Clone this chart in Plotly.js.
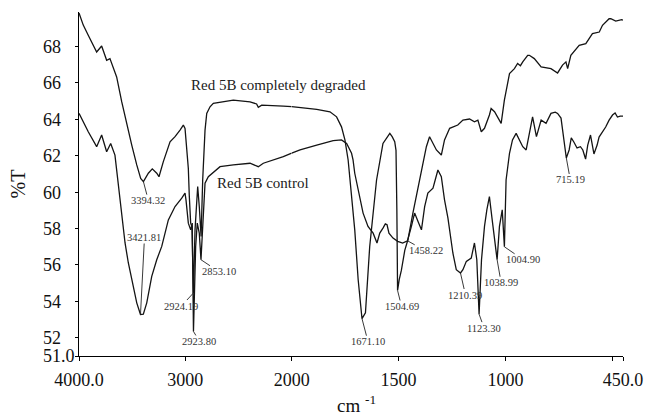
<!DOCTYPE html>
<html>
<head>
<meta charset="utf-8">
<script src="https://cdn.plot.ly/plotly-3.0.1.min.js"></script>
<style>
  html, body { margin: 0; padding: 0; background: #fff; }
  #chart { width: 648px; height: 418px; }
</style>
</head>
<body>
<div id="chart"></div>
<script>
// FTIR spectra of Reactive Red 5B: wavenumber (cm-1) and transmittance (%T)
const degradedWn = [4000, 3960, 3913, 3866, 3834, 3787, 3756, 3740, 3709, 3677, 3646, 3598, 3551, 3504, 3457, 3420, 3394.32, 3348, 3311, 3269, 3248, 3207, 3144, 3097, 3050, 3019, 3003, 2987, 2972, 2963, 2950, 2938, 2924.19, 2909, 2884, 2869, 2852, 2837, 2815, 2799, 2768, 2737, 2549, 2392, 2330, 2314, 2282, 2079, 2000,
  1961, 1883, 1821, 1790, 1767, 1751, 1736, 1728, 1705, 1689, 1671.10, 1655, 1635, 1603, 1573, 1541, 1530, 1518, 1512, 1508, 1504.69, 1497, 1487, 1471, 1456, 1433, 1401, 1370, 1355, 1339, 1323, 1300, 1285, 1261, 1246, 1223, 1199, 1168, 1145, 1129, 1113, 1098, 1075, 1067, 1051, 1020, 1005, 981, 958, 943, 930, 919, 896, 888, 865, 833, 787, 756, 733, 717, 709, 694, 655, 624, 593, 561, 546, 515, 507, 484, 456, 450];
const degradedT = [69.85, 69.18, 68.62, 68.07, 67.70, 68.03, 67.52, 67.25, 67.34, 66.88, 66.33, 64.96, 63.69, 62.59, 61.50, 60.75, 60.58, 61.04, 61.28, 61.04, 60.85, 61.68, 62.77, 63.05, 63.41, 63.69, 63.50, 62.50, 61.30, 59.80, 58.30, 58.10, 54.46, 57.93, 60.31, 59.21, 57.57, 60.67, 63.41, 64.33, 64.69, 64.88, 65.06, 64.96, 64.85, 64.66, 64.78, 64.73, 64.70,
  64.66, 64.55, 64.42, 64.14, 63.59, 62.87, 61.77, 60.67, 57.93, 55.19, 53.05, 53.37, 57.02, 60.67, 62.68, 63.23, 63.05, 62.77, 62.30, 59.00, 54.60, 55.20, 55.70, 56.80, 57.40, 58.85, 60.67, 62.50, 63.05, 62.68, 62.32, 62.04, 62.87, 63.51, 63.59, 63.69, 63.96, 64.02, 63.87, 63.96, 63.32, 63.51, 64.24, 64.60, 64.42, 63.78, 65.06, 66.52, 66.79, 67.07, 66.95, 67.16, 67.52, 67.52, 67.34, 66.88, 66.79, 66.55, 66.98, 67.16, 66.79, 67.52, 68.07, 68.16, 68.71, 68.80, 69.17, 69.53, 69.53, 69.40, 69.48, 69.45];

const controlWn = [4000, 3913, 3834, 3787, 3740, 3702, 3662, 3643, 3605, 3567, 3536, 3489, 3457, 3421.81, 3395, 3363, 3316, 3269, 3222, 3160, 3097, 3034, 3003, 2994, 2972, 2950, 2935, 2923.80, 2903, 2888, 2869, 2853.10, 2831, 2815, 2784, 2705, 2674, 2549, 2392, 2314, 2267, 2079, 2000,
  1961, 1883, 1806, 1767, 1743, 1720, 1713, 1705, 1689, 1666, 1643, 1619, 1601, 1588, 1573, 1562, 1554, 1545, 1526, 1504, 1481, 1458.22, 1440, 1425, 1409, 1393, 1378, 1363, 1339, 1316, 1300, 1285, 1269, 1246, 1230, 1210.39, 1199, 1183, 1160, 1145, 1134, 1123.30, 1112, 1098, 1087, 1075, 1062, 1051, 1038.99, 1028, 1015, 1004.90, 997, 981, 967, 950, 935, 919, 903, 888, 873, 855, 833, 810, 787, 767, 756, 740, 724, 715.19, 702, 692, 680, 665, 649, 638, 625, 615, 602, 586, 571, 562, 531, 515, 499, 487, 476, 463, 450];
const controlT = [64.33, 63.32, 62.50, 63.14, 62.22, 62.68, 62.04, 61.11, 59.30, 57.21, 56.11, 54.83, 53.92, 53.28, 53.30, 53.92, 55.38, 56.29, 57.02, 58.48, 59.21, 59.67, 59.95, 59.58, 58.30, 57.93, 58.30, 52.35, 57.02, 58.30, 57.75, 56.29, 58.85, 60.49, 60.85, 61.22, 61.40, 61.50, 61.59, 61.40, 61.59, 61.95, 62.15,
  62.32, 62.59, 62.83, 62.87, 62.68, 62.14, 61.77, 61.04, 60.13, 58.85, 58.12, 57.75, 57.21, 57.75, 58.03, 58.26, 58.21, 57.75, 57.48, 57.30, 57.20, 57.33, 58.12, 58.85, 58.39, 57.93, 59.21, 59.95, 60.22, 61.22, 60.85, 59.58, 58.58, 56.66, 55.74, 55.56, 55.74, 56.20, 56.38, 57.21, 56.29, 53.30, 56.29, 58.12, 59.03, 59.76, 58.48, 57.39, 56.29, 58.12, 59.03, 57.00, 60.67, 62.14, 62.87, 63.23, 62.87, 62.50, 62.32, 63.20, 64.14, 63.05, 63.96, 63.78, 64.33, 64.40, 64.33, 64.07, 62.59, 61.88, 62.32, 62.98, 62.76, 62.43, 62.50, 62.32, 61.82, 62.59, 63.14, 62.10, 62.59, 63.03, 63.58, 63.96, 64.24, 64.35, 64.13, 64.18, 64.18];

const seriesNames = ['Red 5B completely degraded', 'Red 5B control'];

// labelled band positions (cm-1) and the spectrum each one belongs to (0 = degraded, 1 = control)
const peakWn = [3394.32, 3421.81, 2924.19, 2923.80, 2853.10, 1671.10, 1504.69, 1458.22, 1210.39, 1123.30, 1038.99, 1004.90, 715.19];
const peakSeries = [0, 1, 0, 1, 1, 0, 0, 1, 1, 1, 1, 1, 1];

const xTickVals = [4000, 3000, 2000, 1500, 1000, 450];
const xTickText = ['4000.0', '3000', '2000', '1500', '1000', '450.0'];
const xMinorTickVals = [500];
const yTickVals = [51, 52, 54, 56, 58, 60, 62, 64, 66, 68];
const yTickText = ['51.0', '52', '54', '56', '58', '60', '62', '64', '66', '68'];

// ---- styling and label placement ----
const SERIF = 'Liberation Serif, Times New Roman, serif';
const LINE = { color: '#141414', width: 1.3 };
const BREAK_WN = 2000;           // scale changes at 2000 cm-1
const BREAK_FRAC = 0.391;        // share of the plot width for 4000-2000 cm-1
const labelOffsets = {           // [dx, dy] in px from the band to its label
  '3394.32': [5, 19], '3421.81': [4, -77], '2924.19': [-12, 13], '2923.80': [6, 10],
  '2853.10': [18, 12], '1671.10': [6, 23], '1504.69': [4, 16], '1458.22': [18, 10],
  '1210.39': [5, 22], '1123.30': [5, 14], '1038.99': [4, 23], '1004.90': [19, 13], '715.19': [4, 22]
};
const seriesLabelPos = [ { x: 2124, y: 65.88 }, { x: 2267, y: 60.52 } ];

const series = [ { wn: degradedWn, t: degradedT }, { wn: controlWn, t: controlT } ];

function part(s, keep) {
  const x = [], y = [];
  s.wn.forEach((w, i) => { if (keep(w)) { x.push(w); y.push(s.t[i]); } });
  return { x, y };
}

const traces = [];
series.forEach((s, k) => {
  const hi = part(s, w => w >= BREAK_WN);
  const lo = part(s, w => w <= BREAK_WN);
  traces.push({ x: hi.x, y: hi.y, xaxis: 'x', yaxis: 'y', mode: 'lines', line: LINE, name: seriesNames[k], showlegend: false });
  traces.push({ x: lo.x, y: lo.y, xaxis: 'x2', yaxis: 'y', mode: 'lines', line: LINE, name: seriesNames[k], showlegend: false });
});

const annotations = [];
peakWn.forEach((w, i) => {
  const s = series[peakSeries[i]];
  const j = s.wn.indexOf(w);
  const txt = w.toFixed(2);
  const off = labelOffsets[txt];
  annotations.push({
    x: w, y: s.t[j], xref: w >= BREAK_WN ? 'x' : 'x2', yref: 'y',
    text: txt, showarrow: true, arrowhead: 0, arrowwidth: 0.9, arrowcolor: '#222',
    ax: off[0], ay: off[1], standoff: 0, borderpad: 0,
    font: { family: SERIF, size: 10.5, color: '#333' }
  });
});
seriesNames.forEach((n, k) => {
  annotations.push({
    x: seriesLabelPos[k].x, y: seriesLabelPos[k].y, xref: 'x', yref: 'y',
    text: n, showarrow: false, font: { family: SERIF, size: 15, color: '#222' }
  });
});
annotations.push({
  x: 0.51, y: -0.14, xref: 'paper', yref: 'paper', yanchor: 'middle',
  text: 'cm <sup>-1</sup>', showarrow: false, font: { family: SERIF, size: 19, color: '#111' }
});

const xBase = {
  showline: true, linecolor: '#000', linewidth: 1, showgrid: false, zeroline: false,
  ticks: 'outside', ticklen: 4, tickcolor: '#000', tickwidth: 1, anchor: 'y',
  tickfont: { family: SERIF, size: 18, color: '#111' }, ticklabelstandoff: 3
};

const layout = {
  width: 648, height: 418,
  margin: { l: 79, r: 25, t: 12, b: 62 },
  paper_bgcolor: '#fff', plot_bgcolor: '#fff',
  showlegend: false,
  xaxis: Object.assign({}, xBase, {
    domain: [0, BREAK_FRAC], range: [4000, BREAK_WN],
    tickmode: 'array', tickvals: xTickVals.filter(v => v >= BREAK_WN), ticktext: xTickText.filter((t, i) => xTickVals[i] >= BREAK_WN)
  }),
  xaxis2: Object.assign({}, xBase, {
    domain: [BREAK_FRAC, 1], range: [BREAK_WN, 450],
    tickmode: 'array', tickvals: xTickVals.filter(v => v < BREAK_WN), ticktext: xTickText.filter((t, i) => xTickVals[i] < BREAK_WN),
    minor: { tickmode: 'array', tickvals: xMinorTickVals, ticks: 'outside', ticklen: 4, tickcolor: '#000', tickwidth: 1, showgrid: false }
  }),
  yaxis: {
    range: [51, 69.9], showline: true, linecolor: '#000', linewidth: 1, showgrid: false, zeroline: false,
    ticks: 'outside', ticklen: 3, tickcolor: '#000', tickwidth: 1,
    tickmode: 'array', tickvals: yTickVals,
    ticktext: yTickText.map(t => t.length < 4 ? t + '\u00a0\u00a0\u00a0' : t),
    tickfont: { family: SERIF, size: 18, color: '#111' }, ticklabelstandoff: -3,
    title: { text: '%T', font: { family: SERIF, size: 20, color: '#111' }, standoff: 11 }
  },
  annotations: annotations
};

Plotly.newPlot('chart', traces, layout, { staticPlot: true });
</script>
</body>
</html>
